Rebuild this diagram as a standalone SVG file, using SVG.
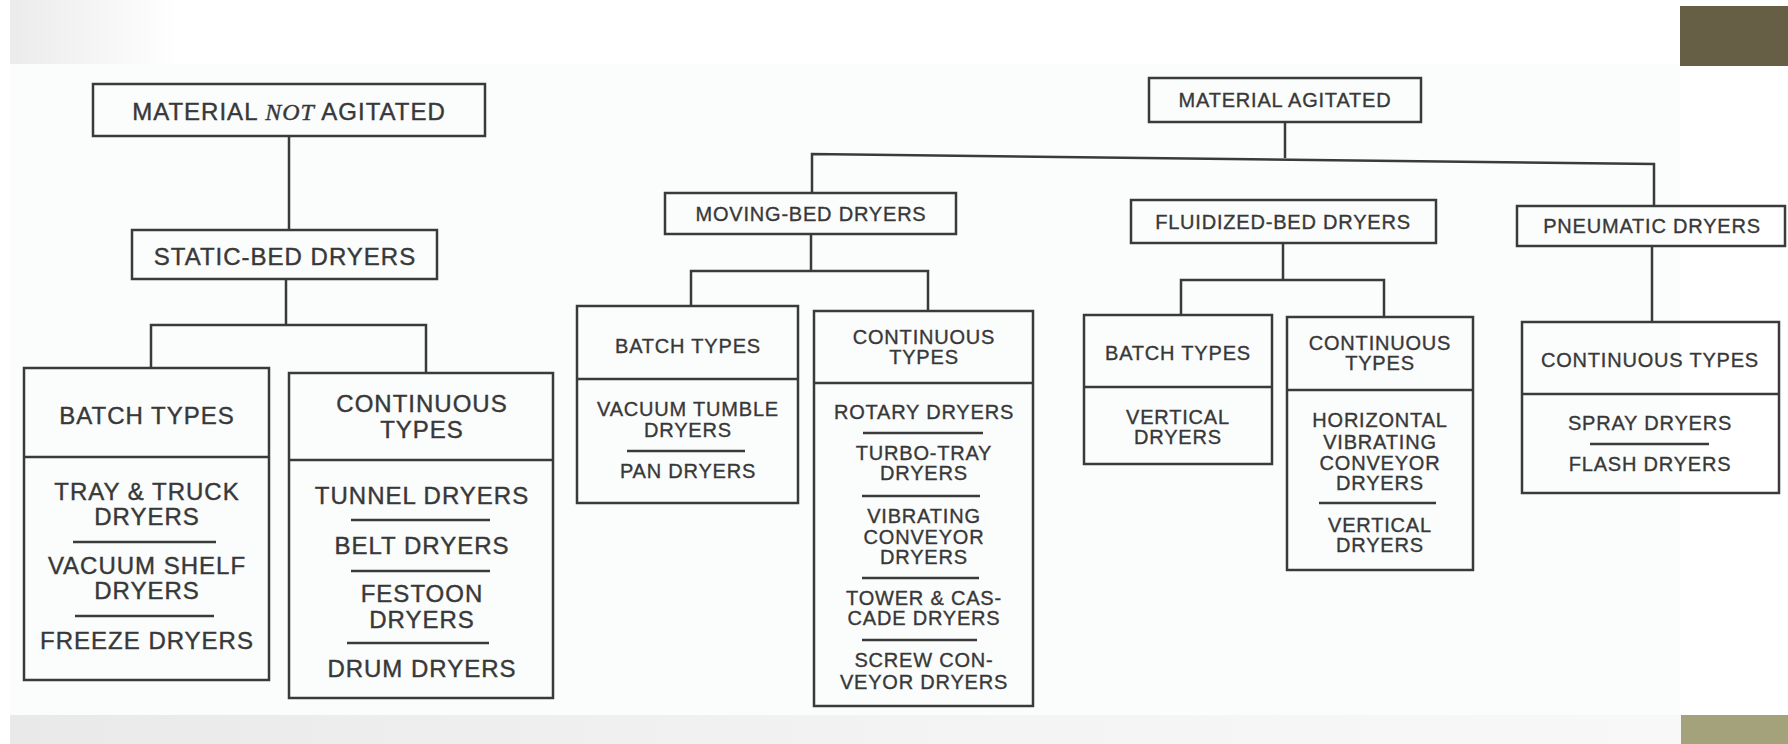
<svg xmlns="http://www.w3.org/2000/svg" width="1788" height="744" viewBox="0 0 1788 744">
<defs>
<linearGradient id="tl" x1="0" y1="0" x2="1" y2="0">
<stop offset="0" stop-color="#ebebeb"/>
<stop offset="1" stop-color="#ffffff"/>
</linearGradient>
<linearGradient id="bl" x1="0" y1="0" x2="1" y2="0">
<stop offset="0" stop-color="#e9e9e9"/>
<stop offset="0.6" stop-color="#f4f4f4"/>
<stop offset="1" stop-color="#f8f8f8"/>
</linearGradient>
<style>
.box{fill:none;stroke:#3a3a3a;stroke-width:2.5}
.sep{stroke:#3a3a3a;stroke-width:2.5;fill:none}
.con{stroke:#3a3a3a;stroke-width:2.5;fill:none}
.tl{font-family:"Liberation Sans",Arial,sans-serif;font-size:24px;letter-spacing:1px;fill:#383838;stroke:#383838;stroke-width:0.4px;text-anchor:middle}
.ts{font-family:"Liberation Sans",Arial,sans-serif;font-size:20px;letter-spacing:0.8px;fill:#383838;stroke:#383838;stroke-width:0.35px;text-anchor:middle}
.it{font-family:"Liberation Serif","Times New Roman",serif;font-style:italic;letter-spacing:1px}
</style>
</defs>
<rect x="0" y="0" width="1788" height="744" fill="#ffffff"/>
<rect x="10" y="0" width="170" height="64" fill="url(#tl)"/>
<rect x="10" y="64" width="1670" height="651" fill="#fbfcfc"/>
<rect x="10" y="715" width="1672" height="29" fill="url(#bl)"/>
<rect x="1680" y="6" width="108" height="60" fill="#665e45"/>
<rect x="1681" y="715" width="107" height="29" fill="#a3a27a"/>

<g id="connectors">
<path class="con" d="M289,136 V230"/>
<path class="con" d="M286,279 V325"/>
<path class="con" d="M151,368 V325 H426 V373"/>
<path class="con" d="M1285,122 V158"/>
<path class="con" d="M812,193 V154 L1654,164 V206"/>
<path class="con" d="M811,234 V271"/>
<path class="con" d="M691,306 V271 H928 V311"/>
<path class="con" d="M1283,243 V280"/>
<path class="con" d="M1181,315 V280 H1384 V317"/>
<path class="con" d="M1652,246 V322"/>
</g>

<g id="material-not-agitated">
<rect class="box" x="93" y="84" width="392" height="52"/>
<text class="tl" x="289" y="120">MATERIAL <tspan class="it">NOT</tspan> AGITATED</text>
</g>

<g id="static-bed-dryers">
<rect class="box" x="132" y="230" width="305" height="49"/>
<text class="tl" x="285" y="265">STATIC-BED DRYERS</text>
</g>

<g id="static-batch-types">
<rect class="box" x="24" y="368" width="245" height="312"/>
<line class="sep" x1="24" y1="457" x2="269" y2="457"/>
<text class="tl" x="147" y="424">BATCH TYPES</text>
<text class="tl" x="147" y="500">TRAY &amp; TRUCK</text>
<text class="tl" x="147" y="525">DRYERS</text>
<line class="sep" x1="73" y1="542" x2="216" y2="542"/>
<text class="tl" x="147" y="574">VACUUM SHELF</text>
<text class="tl" x="147" y="599">DRYERS</text>
<line class="sep" x1="75" y1="616" x2="214" y2="616"/>
<text class="tl" x="147" y="649">FREEZE DRYERS</text>
</g>

<g id="static-continuous-types">
<rect class="box" x="289" y="373" width="264" height="325"/>
<line class="sep" x1="289" y1="460" x2="553" y2="460"/>
<text class="tl" x="422" y="412">CONTINUOUS</text>
<text class="tl" x="422" y="438">TYPES</text>
<text class="tl" x="422" y="504">TUNNEL DRYERS</text>
<line class="sep" x1="351" y1="520" x2="490" y2="520"/>
<text class="tl" x="422" y="554">BELT DRYERS</text>
<line class="sep" x1="351" y1="571" x2="490" y2="571"/>
<text class="tl" x="422" y="602">FESTOON</text>
<text class="tl" x="422" y="628">DRYERS</text>
<line class="sep" x1="347" y1="643" x2="489" y2="643"/>
<text class="tl" x="422" y="677">DRUM DRYERS</text>
</g>

<g id="material-agitated">
<rect class="box" x="1149" y="78" width="272" height="44"/>
<text class="ts" x="1285" y="107">MATERIAL AGITATED</text>
</g>

<g id="moving-bed-dryers">
<rect class="box" x="665" y="193" width="291" height="41"/>
<text class="ts" x="811" y="221">MOVING-BED DRYERS</text>
</g>

<g id="moving-batch-types">
<rect class="box" x="577" y="306" width="221" height="197"/>
<line class="sep" x1="577" y1="379" x2="798" y2="379"/>
<text class="ts" x="688" y="353">BATCH TYPES</text>
<text class="ts" x="688" y="416">VACUUM TUMBLE</text>
<text class="ts" x="688" y="437">DRYERS</text>
<line class="sep" x1="627" y1="451" x2="745" y2="451"/>
<text class="ts" x="688" y="478">PAN DRYERS</text>
</g>

<g id="moving-continuous-types">
<rect class="box" x="814" y="311" width="219" height="395"/>
<line class="sep" x1="814" y1="383" x2="1033" y2="383"/>
<text class="ts" x="924" y="344">CONTINUOUS</text>
<text class="ts" x="924" y="364">TYPES</text>
<text class="ts" x="924" y="419">ROTARY DRYERS</text>
<line class="sep" x1="863" y1="433" x2="983" y2="433"/>
<text class="ts" x="924" y="460">TURBO-TRAY</text>
<text class="ts" x="924" y="480">DRYERS</text>
<line class="sep" x1="862" y1="496" x2="980" y2="496"/>
<text class="ts" x="924" y="523">VIBRATING</text>
<text class="ts" x="924" y="544">CONVEYOR</text>
<text class="ts" x="924" y="564">DRYERS</text>
<line class="sep" x1="862" y1="578" x2="979" y2="578"/>
<text class="ts" x="924" y="605">TOWER &amp; CAS-</text>
<text class="ts" x="924" y="625">CADE DRYERS</text>
<line class="sep" x1="862" y1="640" x2="977" y2="640"/>
<text class="ts" x="924" y="667">SCREW CON-</text>
<text class="ts" x="924" y="689">VEYOR DRYERS</text>
</g>

<g id="fluidized-bed-dryers">
<rect class="box" x="1131" y="200" width="305" height="43"/>
<text class="ts" x="1283" y="229">FLUIDIZED-BED DRYERS</text>
</g>

<g id="pneumatic-dryers">
<rect class="box" x="1517" y="206" width="268" height="40"/>
<text class="ts" x="1652" y="233">PNEUMATIC DRYERS</text>
</g>

<g id="fluidized-batch-types">
<rect class="box" x="1084" y="315" width="188" height="149"/>
<line class="sep" x1="1084" y1="387" x2="1272" y2="387"/>
<text class="ts" x="1178" y="360">BATCH TYPES</text>
<text class="ts" x="1178" y="424">VERTICAL</text>
<text class="ts" x="1178" y="444">DRYERS</text>
</g>

<g id="fluidized-continuous-types">
<rect class="box" x="1287" y="317" width="186" height="253"/>
<line class="sep" x1="1287" y1="390" x2="1473" y2="390"/>
<text class="ts" x="1380" y="350">CONTINUOUS</text>
<text class="ts" x="1380" y="370">TYPES</text>
<text class="ts" x="1380" y="427">HORIZONTAL</text>
<text class="ts" x="1380" y="449">VIBRATING</text>
<text class="ts" x="1380" y="470">CONVEYOR</text>
<text class="ts" x="1380" y="490">DRYERS</text>
<line class="sep" x1="1319" y1="503" x2="1436" y2="503"/>
<text class="ts" x="1380" y="532">VERTICAL</text>
<text class="ts" x="1380" y="552">DRYERS</text>
</g>

<g id="pneumatic-continuous-types">
<rect class="box" x="1522" y="322" width="257" height="171"/>
<line class="sep" x1="1522" y1="394" x2="1779" y2="394"/>
<text class="ts" x="1650" y="367">CONTINUOUS TYPES</text>
<text class="ts" x="1650" y="430">SPRAY DRYERS</text>
<line class="sep" x1="1590" y1="444" x2="1709" y2="444"/>
<text class="ts" x="1650" y="471">FLASH DRYERS</text>
</g>
</svg>
